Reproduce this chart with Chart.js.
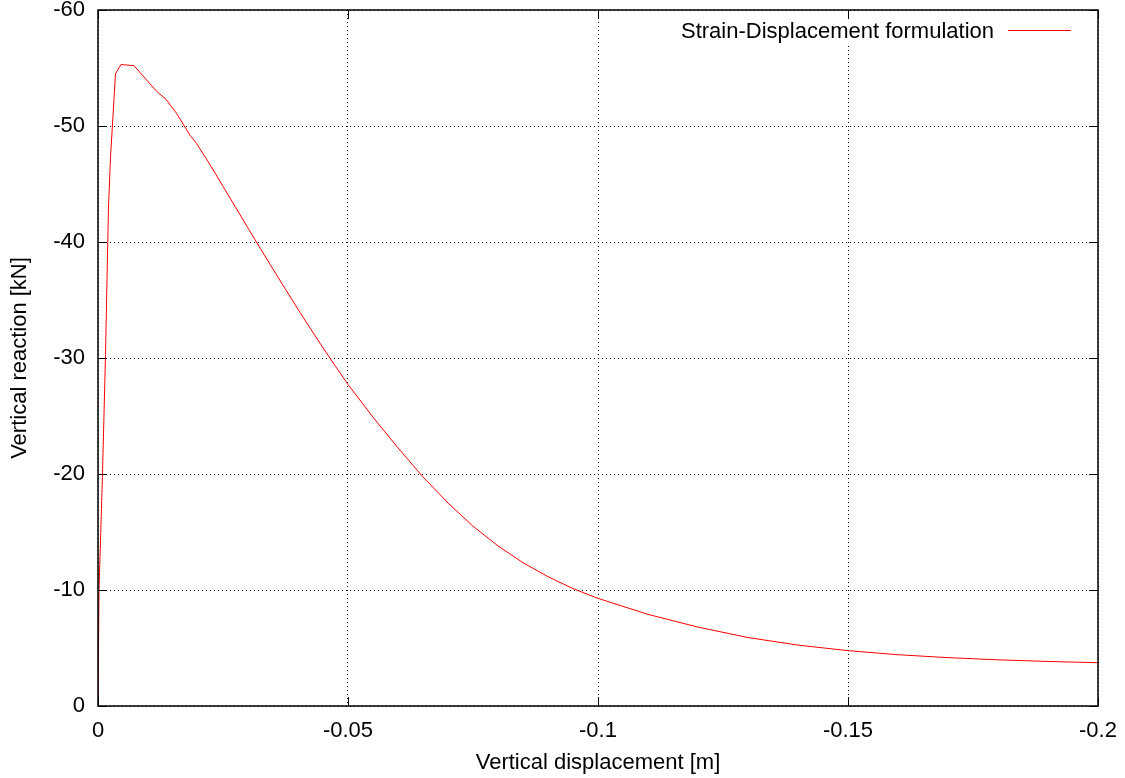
<!DOCTYPE html>
<html>
<head>
<meta charset="utf-8">
<script src="https://cdn.jsdelivr.net/npm/chart.js@4/dist/chart.umd.min.js"></script>
<style>
    body { margin: 0; background: #fff; }
    canvas { display: block; }
</style>
</head>
<body>
<canvas id="grafico" width="1125" height="778"></canvas>
<script>
// valores
var dispX = [0, -0.0002, -0.0009, -0.0015, -0.0021, -0.0025, -0.0035, -0.0046, -0.0072, -0.0117,
    -0.0136, -0.0157, -0.0184, -0.0197, -0.0225, -0.025, -0.0275, -0.03, -0.0325, -0.035,
    -0.0375, -0.04, -0.0425, -0.045, -0.0475, -0.05, -0.055, -0.06, -0.065, -0.07,
    -0.075, -0.08, -0.085, -0.09, -0.095, -0.1, -0.11, -0.12, -0.13, -0.14,
    -0.15, -0.16, -0.17, -0.18, -0.19, -0.2];
var reactionY = [0, -10, -20, -30.3, -43.1, -47.3, -54.5, -55.3, -55.2, -53.0,
    -52.3, -51.1, -49.2, -48.5, -46.6, -44.8, -43.0, -41.2, -39.42, -37.66,
    -35.92, -34.2, -32.52, -30.88, -29.28, -27.72, -24.9, -22.25, -19.75, -17.5,
    -15.5, -13.8, -12.35, -11.15, -10.12, -9.28, -7.9, -6.8, -5.9, -5.25,
    -4.77, -4.42, -4.17, -3.98, -3.84, -3.73];

var xTicks = [0, -0.05, -0.1, -0.15, -0.2];
var xTickLabels = ["0", "-0.05", "-0.1", "-0.15", "-0.2"];
var yTicks = [0, -10, -20, -30, -40, -50, -60];
var yTickLabels = ["0", "-10", "-20", "-30", "-40", "-50", "-60"];

var serieNome = "Strain-Displacement formulation";
var fonte = '"Liberation Sans", Arial, sans-serif';

function rotulo(lista, labels, v) {
    for (var i = 0; i < lista.length; i++) {
        if (Math.abs(lista[i] - v) < 1e-9) return labels[i];
    }
    return '';
}

function semPadding(s) {
    s.paddingTop = 0;
    s.paddingBottom = 0;
    s.paddingLeft = 0;
    s.paddingRight = 0;
}

// moldura, ticks internos e legenda no estilo gnuplot
var molduraPlugin = {
    id: 'moldura',
    afterDraw: function (chart) {
        var ctx = chart.ctx;
        var a = chart.chartArea;
        var sx = chart.scales.x;
        var sy = chart.scales.y;
        ctx.save();

        ctx.fillStyle = '#fff';
        ctx.fillRect(672, a.top + 1, 410, 33);

        ctx.strokeStyle = '#000';
        ctx.lineWidth = 1;
        ctx.beginPath();
        xTicks.forEach(function (v) {
            var px = Math.round(sx.getPixelForValue(v)) + 0.5;
            ctx.moveTo(px, a.bottom); ctx.lineTo(px, a.bottom - 9);
            ctx.moveTo(px, a.top); ctx.lineTo(px, a.top + 9);
        });
        yTicks.forEach(function (v) {
            var py = Math.round(sy.getPixelForValue(v)) + 0.5;
            ctx.moveTo(a.left, py); ctx.lineTo(a.left + 9, py);
            ctx.moveTo(a.right, py); ctx.lineTo(a.right - 9, py);
        });
        ctx.stroke();

        ctx.lineWidth = 1.5;
        ctx.strokeRect(a.left, a.top, a.right - a.left, a.bottom - a.top);

        ctx.font = '22px ' + fonte;
        ctx.fillStyle = '#000';
        ctx.textAlign = 'right';
        ctx.textBaseline = 'alphabetic';
        ctx.fillText(serieNome, 994, 38);

        ctx.strokeStyle = '#ff0000';
        ctx.lineWidth = 1;
        ctx.beginPath();
        ctx.moveTo(1008, 30.5);
        ctx.lineTo(1071, 30.5);
        ctx.stroke();
        ctx.restore();
    }
};

var pontos = dispX.map(function (x, i) { return { x: x, y: reactionY[i] }; });

var ctx = document.querySelector('#grafico').getContext('2d');
var myChart = new Chart(ctx, {
    type: 'scatter',
    data: {
        datasets: [{
            label: serieNome,
            data: pontos,
            showLine: true,
            borderColor: '#ff0000',
            borderWidth: 1,
            pointRadius: 0,
            tension: 0
        }]
    },
    options: {
        responsive: false,
        animation: false,
        layout: {
            padding: { top: 10, right: 27, bottom: 0, left: 0 }
        },
        plugins: {
            legend: { display: false },
            tooltip: { enabled: false }
        },
        scales: {
            x: {
                type: 'linear',
                min: -0.2,
                max: 0,
                reverse: true,
                afterBuildTicks: function (s) {
                    s.ticks = xTicks.map(function (v) { return { value: v }; });
                },
                afterFit: function (s) { s.height = 72; semPadding(s); },
                grid: { color: '#000', lineWidth: 1, drawTicks: false },
                border: { display: false, dash: [1, 3] },
                ticks: {
                    color: '#000',
                    padding: 12,
                    maxRotation: 0,
                    font: { family: fonte, size: 22 },
                    callback: function (v) { return rotulo(xTicks, xTickLabels, v); }
                },
                title: {
                    display: true,
                    text: 'Vertical displacement [m]',
                    color: '#000',
                    padding: 2,
                    font: { family: fonte, size: 22 }
                }
            },
            y: {
                type: 'linear',
                min: -60,
                max: 0,
                reverse: true,
                afterBuildTicks: function (s) {
                    s.ticks = yTicks.map(function (v) { return { value: v }; });
                },
                afterFit: function (s) { s.width = 98; semPadding(s); },
                grid: { color: '#000', lineWidth: 1, drawTicks: false },
                border: { display: false, dash: [1, 3] },
                ticks: {
                    color: '#000',
                    padding: 13,
                    font: { family: fonte, size: 22 },
                    callback: function (v) { return rotulo(yTicks, yTickLabels, v); }
                },
                title: {
                    display: true,
                    text: 'Vertical reaction [kN]',
                    color: '#000',
                    padding: 7,
                    font: { family: fonte, size: 22 }
                }
            }
        }
    },
    plugins: [molduraPlugin]
});
</script>
</body>
</html>
